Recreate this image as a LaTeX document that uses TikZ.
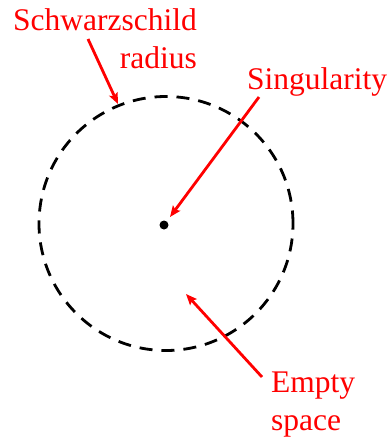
\documentclass[tikz,border=0pt]{standalone}
\usepackage{fontspec}
\setmainfont{Liberation Serif}
\usetikzlibrary{arrows.meta}
\definecolor{lblred}{RGB}{255,0,0}
\begin{document}
\begin{tikzpicture}[x=1pt,y=-1pt,
  lbl/.style={text=lblred,inner sep=0pt,font=\fontsize{31.5}{38}\selectfont},
  pointer/.style={draw=lblred,line width=2.8pt,-{Stealth[length=11pt,width=9pt,inset=2pt]}},
  horizon/.style={draw=black,line width=2.8pt,dash pattern=on 13pt off 9pt}]
\useasboundingbox (0,0) rectangle (391,437);
\node[horizon,circle,minimum size=254pt,inner sep=0pt] (bh) at (166,223.5) {};
\node[circle,fill=black,minimum size=9pt,inner sep=0pt] (sing) at (164,225) {};
\node[lbl,anchor=base east,align=right] (sr) at (197,68) {Schwarzschild\\radius};
\node[lbl,anchor=base west] (sl) at (247,89) {Singularity};
\node[lbl,anchor=base west,align=left] (es) at (271,430) {Empty\\space};
\coordinate (a1s) at (88,39);
\coordinate (a1e) at (118,104);
\coordinate (a2s) at (259,97);
\coordinate (a2e) at (170,217);
\coordinate (a3s) at (262,377);
\coordinate (a3e) at (186,294);
\draw[pointer] (a1s) -- (a1e);
\draw[pointer] (a2s) -- (a2e);
\draw[pointer] (a3s) -- (a3e);
\end{tikzpicture}
\end{document}
